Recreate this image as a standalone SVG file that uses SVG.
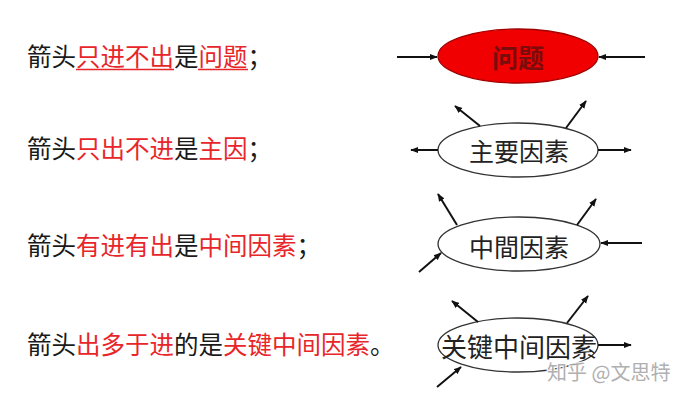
<svg xmlns="http://www.w3.org/2000/svg" width="696" height="402" viewBox="0 0 696 402">
<defs>
<marker id="ah" viewBox="0 0 10 10" refX="9" refY="5" markerWidth="4" markerHeight="4" orient="auto" markerUnits="strokeWidth">
<path d="M0,1 L10,5 L0,9 z" fill="#111"/>
</marker>
</defs>
<style>
.t{font-family:"Noto Sans CJK SC","Microsoft YaHei",sans-serif;font-size:24.5px;fill:#1a1a1a}
.r{fill:#e8262a}
.n{font-family:"Noto Sans CJK SC",sans-serif;font-size:25px;fill:#222;text-anchor:middle;dominant-baseline:central}
.el{fill:#fff;stroke:#333;stroke-width:1.3}
.c line{stroke:#111;stroke-width:2;marker-end:url(#ah)}
.u{stroke:#e8262a;stroke-width:1.3}
.wm{font-family:"Noto Sans CJK SC",sans-serif;font-size:20px;fill:#a8a8a8;stroke:#fff;stroke-width:2.5;paint-order:stroke;opacity:0.9}
</style>
<rect width="696" height="402" fill="#fff"/>
<g id="left-text">
<text class="t" x="27" y="66">箭头<tspan class="r">只进不出</tspan>是<tspan class="r">问题</tspan>；</text>
<line class="u" x1="76" y1="69.5" x2="174" y2="69.5"/>
<line class="u" x1="198" y1="69.5" x2="248" y2="69.5"/>
<text class="t" x="27" y="158">箭头<tspan class="r">只出不进</tspan>是<tspan class="r">主因</tspan>；</text>
<text class="t" x="27" y="255">箭头<tspan class="r">有进有出</tspan>是<tspan class="r">中间因素</tspan>；</text>
<text class="t" x="27" y="354">箭头<tspan class="r">出多于进</tspan>的是<tspan class="r">关键中间因素</tspan>。</text>
</g>
<g id="node-problem">
<ellipse cx="518" cy="56" rx="80" ry="27" fill="#f00000" stroke="#a00000" stroke-width="1.3"/>
<text class="n" x="518" y="56" style="fill:#7a0c0c;font-weight:bold;font-size:26px">问题</text>
</g>
<g id="node-main">
<ellipse class="el" cx="518" cy="150" rx="80" ry="27"/>
<text class="n" x="519" y="150">主要因素</text>
</g>
<g id="node-middle">
<ellipse class="el" cx="519" cy="244" rx="81" ry="27"/>
<text class="n" x="519" y="246">中間因素</text>
</g>
<g id="node-key">
<ellipse class="el" cx="518" cy="345" rx="80" ry="27"/>
<text class="n" x="519" y="345" style="font-size:26px">关键中间因素</text>
</g>
<g id="connectors" class="c">
<line x1="397" y1="57" x2="437" y2="57"/>
<line x1="645" y1="57" x2="599" y2="57"/>
<line x1="438" y1="150" x2="411" y2="150"/>
<line x1="598" y1="150" x2="631" y2="150"/>
<line x1="480" y1="126" x2="455" y2="106"/>
<line x1="566" y1="128" x2="586" y2="101"/>
<line x1="457" y1="225" x2="438" y2="194"/>
<line x1="577" y1="225" x2="596" y2="199"/>
<line x1="642" y1="243" x2="601" y2="243"/>
<line x1="419" y1="272" x2="441" y2="253"/>
<line x1="478" y1="322" x2="452" y2="301"/>
<line x1="567" y1="323" x2="588" y2="296"/>
<line x1="598" y1="345" x2="631" y2="345"/>
<line x1="437" y1="387" x2="461" y2="367"/>
</g>
<text class="wm" x="547" y="380">知乎 @文思特</text>
</svg>
